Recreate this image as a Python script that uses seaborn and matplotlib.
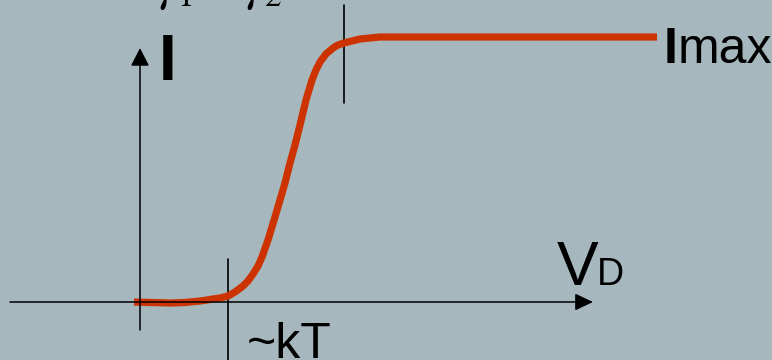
import numpy as np
import pandas as pd
import matplotlib
matplotlib.use("Agg")
import matplotlib.pyplot as plt
import seaborn as sns

# ------------------------------------------------------------
# DATA (schematic I - V_D curve, arbitrary units)
# ------------------------------------------------------------

vd = [-6, 10, 30, 45, 60, 67, 73, 80, 88, 95, 103, 108, 113, 118, 122,
      128, 135, 145, 150, 155, 160, 166, 172, 176, 180, 186, 193, 198,
      204, 212, 220, 230, 240, 517]
current = [0, -0.5, -1, -0.5, 1, 2, 3, 4, 6, 10, 16, 21, 28, 36, 45,
           62, 85, 119, 139, 157, 177, 202, 222, 232, 240, 248, 254, 257,
           259, 261, 263, 264, 265, 265]

vd_kT = 88          # ~kT marker
vd_sat = 204        # saturation marker
x_axis_span = [-130, 453]
y_axis_span = [-28, 254]

bg = "#a6b7bd"
red = "#cc3300"

# ------------------------------------------------------------
# FIGURE
# ------------------------------------------------------------

sns.set_style("white")
plt.rcParams["font.family"] = ["Liberation Sans", "DejaVu Sans"]
plt.rcParams["mathtext.fontset"] = "stix"
plt.rcParams["text.color"] = "black"

fig = plt.figure(figsize=(7.72, 3.6), dpi=100, facecolor=bg)
ax = fig.add_axes([0, 0, 1, 1])
ax.set_facecolor(bg)

# axes arrows
ax.annotate("", xy=(x_axis_span[1], 0), xytext=(x_axis_span[0], 0),
            arrowprops=dict(arrowstyle="-|>,head_length=0.55,head_width=0.26",
                            mutation_scale=20, lw=1.1, color="black",
                            shrinkA=0, shrinkB=0))
ax.annotate("", xy=(0, y_axis_span[1]), xytext=(0, y_axis_span[0]),
            arrowprops=dict(arrowstyle="-|>,head_length=0.55,head_width=0.28",
                            mutation_scale=20, lw=1.1, color="black",
                            shrinkA=0, shrinkB=0))

# marker lines
ax.plot([vd_kT, vd_kT], [43, -58], color="black", lw=1.2)
ax.plot([vd_sat, vd_sat], [297, 199], color="black", lw=1.2)

# curve
df = pd.DataFrame({"vd": vd, "i": current})
sns.lineplot(data=df, x="vd", y="i", sort=False, estimator=None,
             color=red, lw=5.2, ax=ax, solid_capstyle="butt",
             solid_joinstyle="round")
ax.set_xlim(-140, 632)
ax.set_ylim(-58, 302)
ax.axis("off")

# ------------------------------------------------------------
# LABELS
# ------------------------------------------------------------

ax.text(19, 222, "I", fontsize=46, fontweight="bold", va="baseline", ha="left",
        color="black")

t1 = ax.text(524, 239, "I", fontsize=36, fontweight="bold", va="baseline",
             ha="left", color="black")
fig.canvas.draw()
bb = t1.get_window_extent()
x_after = ax.transData.inverted().transform((bb.x1, 0))[0]
ax.text(x_after, 239, "max", fontsize=36, va="baseline", ha="left", color="black")

ax.text(417, 17, "V", fontsize=45, va="baseline", ha="left", color="black")
ax.text(457, 17, "D", fontsize=27, va="baseline", ha="left", color="black")

ax.text(107, -56, "~kT", fontsize=36, va="baseline", ha="left", color="black")

ax.text(18, 302, r"$\gamma_1$", fontsize=34, va="baseline", ha="left", color="black")
ax.text(105, 302, r"$\gamma_2$", fontsize=34, va="baseline", ha="left", color="black")

fig.savefig("out.png", dpi=100, facecolor=bg)
